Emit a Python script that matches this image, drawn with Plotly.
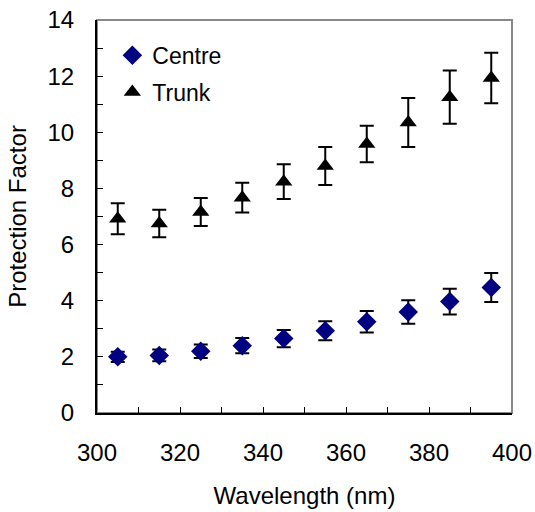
import plotly.graph_objects as go

wavelength = [305, 315, 325, 335, 345, 355, 365, 375, 385, 395]
centre = [2.00, 2.05, 2.20, 2.40, 2.65, 2.93, 3.25, 3.60, 3.97, 4.47]
centre_err = [0.18, 0.21, 0.24, 0.27, 0.31, 0.34, 0.38, 0.42, 0.46, 0.52]
trunk = [6.92, 6.75, 7.16, 7.67, 8.24, 8.80, 9.58, 10.35, 11.25, 11.93]
trunk_err = [0.55, 0.49, 0.50, 0.53, 0.62, 0.68, 0.65, 0.87, 0.95, 0.90]

font = "Liberation Sans, Arial, sans-serif"

fig = go.Figure()
fig.add_trace(go.Scatter(
    x=wavelength, y=centre, mode="markers", name="Centre", legendgroup="c",
    marker=dict(symbol="diamond", size=15, color="#000080"),
    error_y=dict(type="data", array=centre_err, color="black", thickness=2, width=7),
))
fig.add_trace(go.Scatter(
    x=wavelength, y=trunk, mode="markers", name="Trunk", legendgroup="t",
    marker=dict(symbol="triangle-up", size=15, color="black"),
    error_y=dict(type="data", array=trunk_err, color="black", thickness=2, width=7),
))

fig.add_shape(type="rect", xref="paper", yref="paper", x0=0, x1=1, y0=0, y1=1,
              line=dict(color="#888888", width=2), layer="below")

fig.update_layout(
    width=535, height=512,
    margin=dict(l=97, r=23, t=20, b=99),
    plot_bgcolor="white", paper_bgcolor="white",
    font=dict(family=font, size=22, color="black"),
    showlegend=True,
    legend=dict(x=0.037, y=0.965, xanchor="left", yanchor="top",
                bgcolor="rgba(0,0,0,0)", font=dict(size=23),
                itemwidth=30, tracegroupgap=4),
    xaxis=dict(range=[300, 400], dtick=20, tick0=300, ticks="inside", ticklen=6,
               tickcolor="black", showline=True, linecolor="black", linewidth=2,
               showgrid=False, zeroline=False, ticklabelstandoff=17, automargin=False,
               ticklabeloverflow="allow",
               minor=dict(dtick=10, ticks="inside", ticklen=6, tickcolor="black"),
               title=dict(text="Wavelength (nm)", standoff=22, font=dict(size=24)),
               tickfont=dict(size=24)),
    yaxis=dict(range=[0, 14], dtick=2, ticks="inside", ticklen=6,
               tickcolor="black", showline=True, linecolor="black", linewidth=2,
               showgrid=False, zeroline=False, ticklabelstandoff=16, automargin=False,
               ticklabeloverflow="allow",
               minor=dict(dtick=1, ticks="inside", ticklen=6, tickcolor="black"),
               title=dict(text="Protection Factor", standoff=14, font=dict(size=24)),
               tickfont=dict(size=24)),
)

fig.write_html(
    "out.html",
    config={"displayModeBar": False},
    post_script="document.body.style.margin='0';document.body.style.overflow='hidden';",
)
